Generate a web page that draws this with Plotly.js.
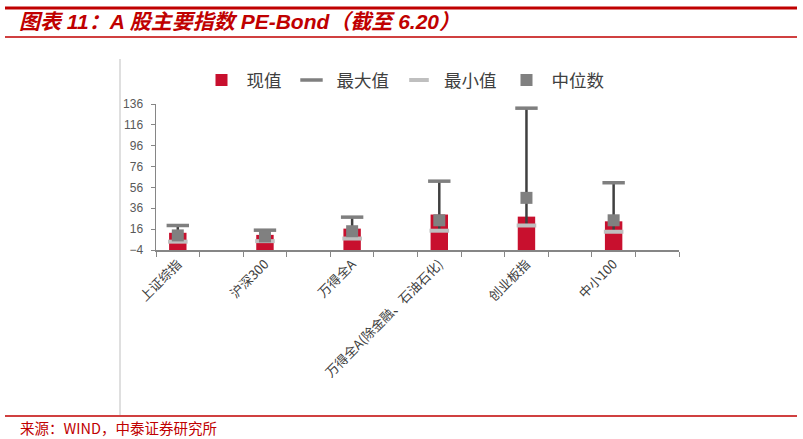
<!DOCTYPE html>
<html>
<head>
<meta charset="utf-8">
<script src="https://cdn.plot.ly/plotly-3.0.1.min.js"></script>
<style>
  html, body { margin: 0; padding: 0; background: #fff; }
  #chart { width: 803px; height: 439px; }
</style>
</head>
<body>
<div id="chart"></div>
<script>
var indexNames = ['上证综指', '沪深300', '万得全A', '万得全A(除金融、石油石化)', '创业板指', '中小100'];

var currentVals = [12.5, 10.5, 16.5, 30, 28, 23.5];
var maxVals = [19.5, 15, 27.5, 62, 132, 60.5];
var minVals = [4, 4.5, 7, 14.5, 19.5, 13.5];
var medianVals = [10, 9, 14, 24.5, 46, 24.5];

var yTicks = [-4, 16, 36, 56, 76, 96, 116, 136];

var axisBase = -4;
var xPos = indexNames.map(function (n, i) { return i; });

var red = '#C00000';
var cjk = '"Noto Sans CJK SC", "Liberation Sans", sans-serif';

var data = [{
  type: 'bar',
  name: '现值',
  x: xPos,
  y: currentVals.map(function (v) { return v - axisBase; }),
  base: axisBase,
  width: 0.2,
  marker: {color: '#C8102E'},
  hoverinfo: 'skip'
}, {
  type: 'scatter',
  mode: 'markers',
  name: '最大值',
  x: xPos,
  y: maxVals,
  marker: {symbol: 'line-ew', size: 16, line: {width: 3.5, color: '#7F7F7F'}},
  error_y: {
    type: 'data',
    symmetric: false,
    array: maxVals.map(function () { return 0; }),
    arrayminus: maxVals.map(function (v, i) { return v - minVals[i]; }),
    width: 0,
    thickness: 2.5,
    color: '#404040'
  }
}, {
  type: 'scatter',
  mode: 'markers',
  name: '最小值',
  x: xPos,
  y: minVals,
  marker: {symbol: 'line-ew', size: 14, line: {width: 4, color: '#BFBFBF'}}
}, {
  type: 'scatter',
  mode: 'markers',
  name: '中位数',
  x: xPos,
  y: medianVals,
  marker: {symbol: 'square', size: 12, color: '#808080'}
}];

// page coords -> paper coords (plot area x 156..679, y 104..250)
function px(x) { return (x - 156) / 523; }
function py(y) { return (250 - y) / 146; }

var layout = {
  width: 803,
  height: 439,
  margin: {l: 156, r: 124, t: 104, b: 189},
  paper_bgcolor: '#fff',
  plot_bgcolor: '#fff',
  showlegend: true,
  title: {
    text: '图表 11：A 股主要指数 PE-Bond（截至 6.20）',
    x: 19 / 803, xanchor: 'left', xref: 'container',
    y: 1 - 22 / 439, yanchor: 'middle', yref: 'container',
    font: {family: '"Liberation Sans", "Noto Sans CJK SC", sans-serif', size: 21, color: red, weight: 'bold', style: 'italic'}
  },
  legend: {
    orientation: 'h',
    x: px(403), xanchor: 'center',
    y: py(80), yanchor: 'middle',
    font: {family: cjk, size: 17.5, color: '#404040'},
    itemwidth: 40,
    bgcolor: 'rgba(0,0,0,0)'
  },
  xaxis: {
    range: [-0.25, 5.75],
    tickmode: 'array',
    tickvals: xPos,
    ticktext: indexNames,
    ticks: '',
    tickangle: -45,
    tickfont: {family: cjk, size: 13, color: '#404040'},
    showline: true,
    linecolor: '#868686',
    linewidth: 1.5,
    showgrid: false,
    zeroline: false,
    minor: {tickmode: 'linear', tick0: -0.25, dtick: 0.5, ticks: 'outside', ticklen: 5, tickcolor: '#868686', tickwidth: 1, showgrid: false}
  },
  yaxis: {
    range: [-4, 136],
    tickmode: 'array',
    tickvals: yTicks,
    ticks: 'outside',
    ticklen: 4,
    tickcolor: '#868686',
    tickfont: {family: '"Liberation Sans", Arial, sans-serif', size: 12, color: '#595959'},
    ticklabelstandoff: 5,
    showline: true,
    linecolor: '#868686',
    linewidth: 1.5,
    showgrid: false,
    zeroline: false
  },
  shapes: [
    {type: 'line', xref: 'paper', yref: 'paper', x0: px(5), x1: px(797), y0: py(8), y1: py(8), line: {color: red, width: 3}},
    {type: 'line', xref: 'paper', yref: 'paper', x0: px(5), x1: px(797), y0: py(37), y1: py(37), line: {color: red, width: 1.5}},
    {type: 'line', xref: 'paper', yref: 'paper', x0: px(5), x1: px(797), y0: py(416), y1: py(416), line: {color: red, width: 1.5}},
    {type: 'line', xref: 'paper', yref: 'paper', x0: px(120), x1: px(120), y0: py(59), y1: py(415), line: {color: '#BFBFBF', width: 1}}
  ],
  annotations: [{
    text: '来源：WIND，中泰证券研究所',
    xref: 'paper', yref: 'paper',
    x: px(18), y: py(427), xanchor: 'left', yanchor: 'middle',
    showarrow: false,
    font: {family: cjk, size: 14.5, color: red}
  }]
};

Plotly.newPlot('chart', data, layout, {displayModeBar: false, staticPlot: true});
</script>
</body>
</html>
